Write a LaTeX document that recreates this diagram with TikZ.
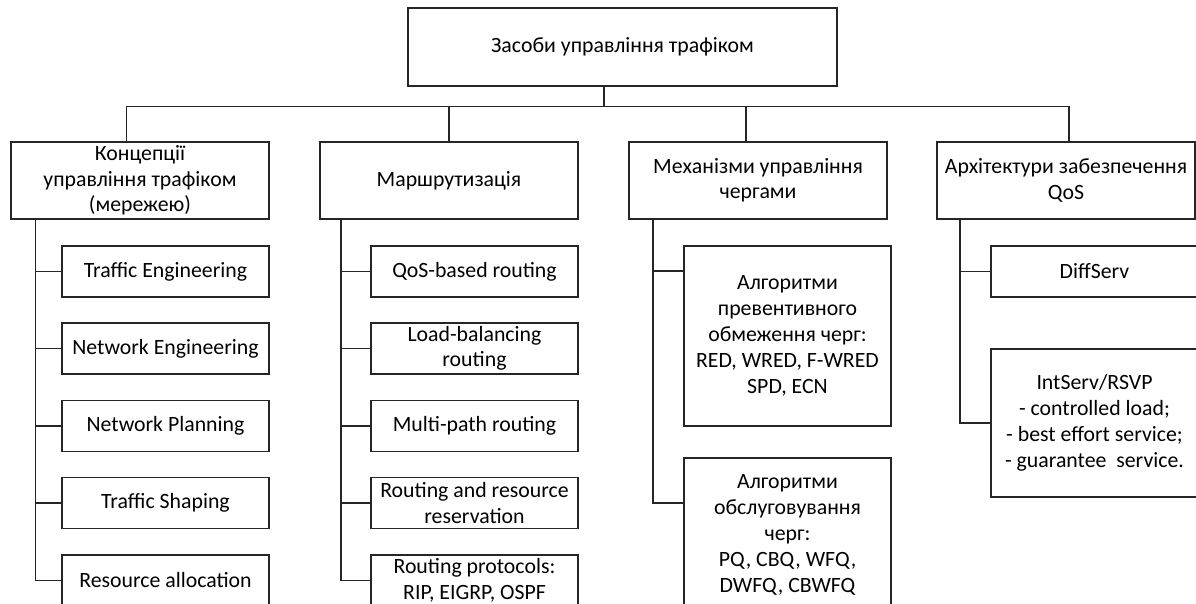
\documentclass[tikz,border=0pt]{standalone}
\usepackage{fontspec}
\setmainfont{Carlito}
\begin{document}
\begin{tikzpicture}[x=1pt,y=-1pt,
  box/.style={draw=black!85, line width=1.4pt, rectangle, inner sep=0pt, outer sep=0pt,
    align=center, font=\fontsize{21.8}{25.5}\selectfont},
  lvl/.style={box, minimum width=258pt, minimum height=77pt},
  sub/.style={box, minimum width=207pt, minimum height=51pt},
  link/.style={draw=black!85, line width=1.4pt}]
\useasboundingbox (0,0) rectangle (1196,603);
\fill[white] (0,0) rectangle (1196,603);
\clip (0,0) rectangle (1196,603);

% root
\node[box, minimum width=429pt, minimum height=78pt] (root) at (622.5,47) {Засоби управління трафіком};

% first level
\node[lvl] (c1) at (140,180.5) {Концепції\\управління трафіком\\(мережею)};
\node[lvl] (c2) at (449,180.5) {Маршрутизація};
\node[lvl] (c3) at (758,180.5) {Механізми управління\\чергами};
\node[lvl] (c4) at (1066,180.5) {Архітектури забезпечення\\QoS};

% column 1
\node[sub] (a1) at (165.5,271.5) {Traffic Engineering};
\node[sub] (a2) at (165.5,348.5) {Network Engineering};
\node[sub] (a3) at (165.5,426) {Network Planning};
\node[sub] (a4) at (165.5,503) {Traffic Shaping};
\node[sub] (a5) at (165.5,580.5) {Resource allocation};

% column 2
\node[sub] (b1) at (474.5,271.5) {QoS-based routing};
\node[sub] (b2) at (474.5,348.5) {Load-balancing\\routing};
\node[sub] (b3) at (474.5,426) {Multi-path routing};
\node[sub] (b4) at (474.5,503) {Routing and resource\\reservation};
\node[sub] (b5) at (474.5,580.5) {Routing protocols:\\RIP, EIGRP, OSPF};

% column 3
\node[sub, minimum height=180pt, font=\fontsize{21.8}{26}\selectfont] (m1) at (787.5,336) {Алгоритми\\превентивного\\обмеження черг:\\RED, WRED, F-WRED\\SPD, ECN};
\node[sub, minimum height=154pt, font=\fontsize{21.8}{26}\selectfont] (m2) at (787.5,535) {Алгоритми\\обслуговування\\черг:\\PQ, CBQ, WFQ,\\DWFQ, CBWFQ};

% column 4
\node[sub] (q1) at (1094.5,271.5) {DiffServ};
\node[sub, minimum height=148pt, font=\fontsize{21.8}{26}\selectfont] (q2) at (1094.5,423) {IntServ/RSVP\\- controlled load;\\- best effort service;\\- guarantee~ service.};

% top tree
\coordinate (bar) at (0,106.5);
\draw[link] ([xshift=-18.5pt]root.south) -- ([xshift=-18.5pt]root.south |- bar);
\draw[link] ([xshift=-13.3pt]c1.north) |- ([xshift=3pt]c4.north |- bar) -- ([xshift=3pt]c4.north);
\draw[link] (c2.north) -- (c2.north |- bar);
\draw[link] ([xshift=-12pt]c3.north) -- ([xshift=-12pt]c3.north |- bar);

% spines
\coordinate (s1) at ([xshift=24.7pt]c1.south west);
\coordinate (s2) at ([xshift=21pt]c2.south west);
\coordinate (s3) at ([xshift=24pt]c3.south west);
\coordinate (s4) at ([xshift=23pt]c4.south west);

\draw[link] (s1) |- (a5.west);
\foreach \n in {a1,a2,a3,a4} \draw[link] (\n.west) -- (\n.west -| s1);
\draw[link] (s2) |- (b5.west);
\foreach \n in {b1,b2,b3,b4} \draw[link] (\n.west) -- (\n.west -| s2);
\draw[link] (s3) |- ([yshift=32pt]m2.west);
\draw[link] ([yshift=65pt]m1.west) -- ([yshift=65pt]m1.west -| s3);
\draw[link] (s4) |- (q2.west);
\draw[link] (q1.west) -- (q1.west -| s4);
\end{tikzpicture}
\end{document}
